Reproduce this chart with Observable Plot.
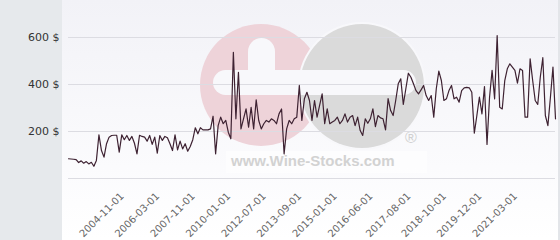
<!DOCTYPE html>
<html>
<head>
<meta charset="utf-8">
<script src="https://cdn.jsdelivr.net/npm/d3@7"></script>
<script src="https://cdn.jsdelivr.net/npm/@observablehq/plot@0.6"></script>
<style>
  html, body { margin: 0; padding: 0; background: #fff; }
  #wrap { position: relative; width: 560px; height: 240px; overflow: hidden; }
  .abs { position: absolute; }
  #panel { left: 0; top: 0; width: 62px; height: 240px; background: #e6e9ec; }
  #plotbg { left: 62px; top: 0; width: 496px; height: 240px; background: linear-gradient(to bottom, #f2f2f7 0%, #fbfbfd 70%, #ffffff 100%); }
  #rightedge { left: 558px; top: 0; width: 2px; height: 240px; background: #e3e5e9; }
  #pink { left: 200px; top: 24px; width: 122px; height: 122px; border-radius: 50%; background: #eed3d9; }
  #gray { left: 300px; top: 24px; width: 124px; height: 124px; border-radius: 50%; background: #dadada; box-shadow: 0 0 0 2px #f8f8fb; }
  #hbar { left: 213px; top: 70px; width: 203px; height: 25px; border-radius: 12.5px; background: #f8f8fb; }
  #vbar { left: 248px; top: 38px; width: 27px; height: 50px; border-radius: 13.5px; background: #f8f8fb; }
  #txtbox { left: 226px; top: 151px; width: 201px; height: 22px; background: rgba(255,255,255,0.55); }
  #wmtext { left: 231px; top: 153px; font: bold 15px "Liberation Sans", Arial, sans-serif; line-height: 15px; color: #d2d2d2; white-space: nowrap; }
  #reg { left: 405px; top: 130px; font: 16px "Liberation Sans", Arial, sans-serif; line-height: 16px; color: #d0d0d0; }
  #chart { left: 0; top: 0; }
</style>
</head>
<body>
<div id="wrap">
  <div id="panel" class="abs"></div>
  <div id="plotbg" class="abs"></div>
  <div id="rightedge" class="abs"></div>
  <div id="pink" class="abs"></div>
  <div id="gray" class="abs"></div>
  <div id="hbar" class="abs"></div>
  <div id="vbar" class="abs"></div>
  <div id="txtbox" class="abs"></div>
  <div id="wmtext" class="abs">www.Wine-Stocks.com</div>
  <div id="reg" class="abs">®</div>
  <div id="chart" class="abs"></div>
</div>
<script>
// Price series (USD), one value per recorded observation, in order
const prices = [
  84, 83, 82, 80, 68, 75, 65, 72, 62, 69, 52, 77, 186, 119, 91, 148, 176, 183, 184, 184,
  112, 186, 165, 183, 162, 179, 150, 105, 184, 179, 176, 159, 183, 145, 176, 108, 183, 162, 179, 173,
  148, 119, 186, 122, 159, 126, 148, 116, 136, 165, 216, 190, 216, 207, 207, 207, 211,
  265, 105, 225, 261, 233, 247, 197, 169, 537, 254, 452, 211, 254, 296, 218, 303, 211, 335, 247, 211,
  233, 247, 240, 254, 247, 233, 275, 296, 105, 211, 247, 233, 254, 261, 396, 247, 339, 367, 332, 247,
  332, 261, 311, 360, 233, 296, 233, 240, 247, 261, 233, 247, 275, 240, 261, 268, 225, 261, 204,
  183, 254, 235, 254, 296, 221, 268, 258, 254, 207, 340, 289, 268, 332, 403, 424, 315, 382, 448, 431,
  403, 374, 360, 377, 396, 353, 332, 353, 261, 382, 457, 417, 332, 339, 374, 396, 339, 346, 325, 374,
  386, 388, 386, 367, 193, 268, 346, 275, 391, 145, 346, 460, 339, 608, 303, 296, 417, 467, 488, 474,
  460, 406, 467, 460, 261, 261, 509, 417, 332, 315, 431, 514, 268, 225, 346, 474, 254
];
// Category positions of the labelled dates and their labels
const tickIndex = [22, 36, 50, 64, 78, 92, 106, 120, 135, 149, 163, 177];
const tickLabels = ["2004-11-01", "2006-03-01", "2007-11-01", "2010-01-01", "2012-07-01", "2013-09-01",
                    "2015-01-01", "2016-06-01", "2017-08-01", "2018-10-01", "2019-12-01", "2021-03-01"];
const yTicks = [200, 400, 600];
const gridTicks = [0, 200, 400, 600];

const data = prices.map((v, i) => ({i, v}));

const chart = Plot.plot({
  width: 560,
  height: 240,
  marginLeft: 68,
  marginRight: 5,
  marginTop: 37,
  marginBottom: 62,
  style: {background: "transparent", fontFamily: "'DejaVu Sans', sans-serif", overflow: "visible"},
  x: {domain: [0, prices.length - 1]},
  y: {domain: [0, 600]},
  marks: [
    Plot.gridY(gridTicks, {stroke: "#dcdce2", strokeOpacity: 1}),
    Plot.axisY(yTicks, {tickSize: 0, tickPadding: 9, fontSize: 11, fill: "#333", tickFormat: d => `${d} $`, label: null}),
    Plot.axisX(tickIndex, {tickSize: 0, tickPadding: 16, dx: -2, tickRotate: -45, fontSize: 10, fill: "#666",
      tickFormat: d => tickLabels[tickIndex.indexOf(d)], label: null}),
    Plot.line(data, {x: "i", y: "v", stroke: "#3e2232", strokeWidth: 1.2})
  ]
});
document.getElementById("chart").appendChild(chart);
</script>
</body>
</html>
